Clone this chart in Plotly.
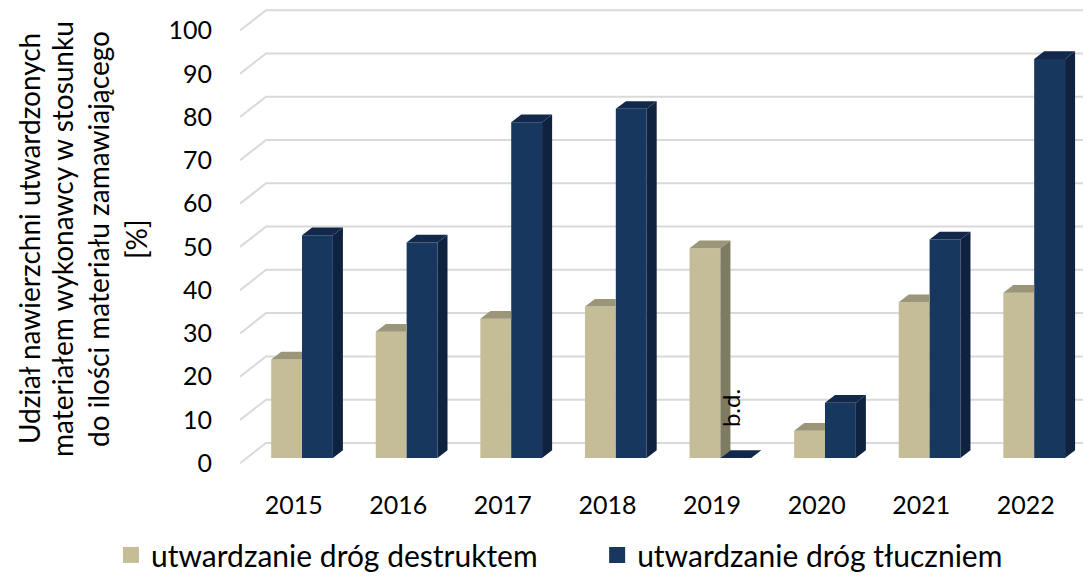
import plotly.graph_objects as go

# ---------------- data ----------------
years = ["2015", "2016", "2017", "2018", "2019", "2020", "2021", "2022"]
destrukt = [22.8, 29.2, 32.2, 35.0, 48.5, 6.3, 36.0, 38.2]
tluczen = [51.5, 49.8, 77.6, 80.7, 0.0, 12.8, 50.5, 92.2]
series_names = ["utwardzanie dróg destruktem", "utwardzanie dróg tłuczniem"]
y_ticks = list(range(0, 101, 10))
missing_label = "b.d."
missing_index = 4
title_lines = [
    "Udział nawierzchni utwardzonych",
    "materiałem wykonawcy w stosunku",
    "do ilości materiału zamawiającego",
    "[%]",
]

# ---------------- style ----------------
FONT = "Lato"
FRONT = ["#C4BD97", "#17375E"]
TOP = ["#9B9679", "#13294B"]
SIDE = ["#7F7B61", "#0F2340"]
GRID = "#D9D9D9"
W = 0.295      # bar width (category units)
DX = 0.096     # depth offset in x (category units)
DY = 1.78      # depth offset in y (value units)
WALL = 3.5     # back wall offset above bar scale (value units)
FRONT_OFF = 1.2  # front edge of floor below bar scale (value units)
X_RANGE = [-0.593, 7.505]
Y_RANGE = [-1.6, 104.0]
GX_FRONT, GX_BACK = -0.593, -0.344
LABEL_SHIFT = -0.08

xs = list(range(len(years)))

fig = go.Figure()
fig.add_bar(x=xs, y=destrukt, width=W, offset=-W, name=series_names[0],
            showlegend=False, marker=dict(color=FRONT[0], line=dict(width=0)))
fig.add_bar(x=xs, y=tluczen, width=W, offset=0, name=series_names[1],
            showlegend=False, marker=dict(color=FRONT[1], line=dict(width=0)))
# legend entries (one legend box per series)
for k, (name, col) in enumerate(zip(series_names, FRONT)):
    fig.add_scatter(x=[None], y=[None], mode="markers", name=name,
                    legend="legend" if k == 0 else "legend2",
                    marker=dict(symbol="square", size=18, color=col))


def poly(points):
    return "M " + " L ".join(f"{px},{py}" for px, py in points) + " Z"


shapes = []
# back-wall grid lines
for v in y_ticks:
    shapes.append(dict(type="path", xref="x", yref="y", layer="below",
                       path=(f"M {GX_FRONT},{v - FRONT_OFF} L {GX_BACK},{v + WALL} "
                             f"L {X_RANGE[1] + 0.2},{v + WALL}"),
                       line=dict(color=GRID, width=2)))

for i in xs:
    v, d = destrukt[i], tluczen[i]
    x0, x1 = i - W, i
    # beige top face
    if d >= v + DY:
        pts = [(x0, v), (x1, v), (x1, v + DY), (x0 + DX, v + DY)]
    else:
        pts = [(x0, v), (x1, v), (x1 + DX, v + DY), (x0 + DX, v + DY)]
    shapes.append(dict(type="path", xref="x", yref="y", layer="above",
                       path=poly(pts), fillcolor=TOP[0], line=dict(width=0)))
    # beige side face (visible only above the dark bar)
    if v > d:
        lo = d
        pts = [(x1, lo), (x1 + DX, lo + DY), (x1 + DX, v + DY), (x1, v)]
        shapes.append(dict(type="path", xref="x", yref="y", layer="above",
                           path=poly(pts), fillcolor=SIDE[0], line=dict(width=0)))
    # dark bar faces
    x0, x1 = i, i + W
    pts = [(x0, d), (x1, d), (x1 + DX, d + DY), (x0 + DX, d + DY)]
    shapes.append(dict(type="path", xref="x", yref="y", layer="above",
                       path=poly(pts), fillcolor=TOP[1], line=dict(width=0)))
    if d > 0:
        pts = [(x1, 0), (x1 + DX, DY), (x1 + DX, d + DY), (x1, d)]
        shapes.append(dict(type="path", xref="x", yref="y", layer="above",
                           path=poly(pts), fillcolor=SIDE[1], line=dict(width=0)))

annotations = [dict(x=missing_index + 0.09, y=11.5, xref="x", yref="y",
                    text=missing_label, showarrow=False, textangle=-90,
                    xanchor="center", yanchor="middle",
                    font=dict(family=FONT, size=24, color="#000000"))]

L, R_PLOT = 232, 1079
T, B_PLOT = 0, 457
PW = R_PLOT - L
PH = B_PLOT - T
line_px = [21, 54, 90, 128]
for txt, px in zip(title_lines, line_px):
    annotations.append(dict(x=(px - L) / PW, y=(B_PLOT - 231) / PH,
                            xref="paper", yref="paper",
                            text=txt, showarrow=False, textangle=-90,
                            xanchor="center", yanchor="middle",
                            font=dict(family=FONT, size=28, color="#000000")))

legend_common = dict(orientation="h", xref="container", yref="container",
                     y=0.057, xanchor="left", yanchor="middle",
                     itemwidth=30, bgcolor="rgba(0,0,0,0)",
                     font=dict(family=FONT, size=30, color="#000000"))

fig.update_layout(
    width=1091, height=580,
    margin=dict(l=L, r=1091 - R_PLOT, t=T, b=580 - B_PLOT, pad=0),
    paper_bgcolor="white", plot_bgcolor="white",
    barmode="overlay",
    font=dict(family=FONT, color="#000000"),
    shapes=shapes,
    annotations=annotations,
    xaxis=dict(range=X_RANGE, tickvals=[i + LABEL_SHIFT for i in xs], ticktext=years,
               showgrid=False, zeroline=False, showline=False,
               ticks="", ticklabelstandoff=23, automargin=False,
               tickfont=dict(family=FONT, size=25, color="#000000")),
    yaxis=dict(range=Y_RANGE,
               tickvals=[v - FRONT_OFF for v in y_ticks],
               ticktext=[str(v) for v in y_ticks],
               showgrid=False, zeroline=False, showline=False,
               ticks="", ticklabelstandoff=27, automargin=False,
               tickfont=dict(family=FONT, size=25, color="#000000")),
    legend=dict(x=0.0944, **legend_common),
    legend2=dict(x=0.540, **legend_common),
)

fig.write_html("out.html")
